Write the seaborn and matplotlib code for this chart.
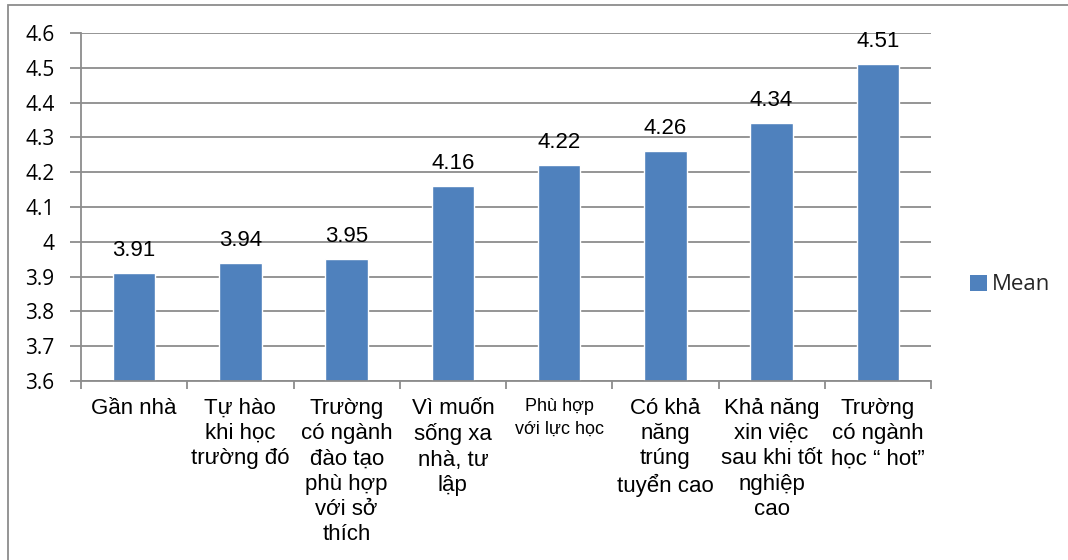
import matplotlib
matplotlib.use("Agg")
import matplotlib.pyplot as plt
from matplotlib.patches import Rectangle
import seaborn as sns
import pandas as pd
import numpy as np

categories = [
    "Gần nhà",
    "Tự hào\nkhi học\ntrường đó",
    "Trường\ncó ngành\nđào tạo\nphù hợp\nvới sở\nthích",
    "Vì muốn\nsống xa\nnhà, tư\nlập",
    "Phù hợp\nvới lực học",
    "Có khả\nnăng\ntrúng\ntuyển cao",
    "Khả năng\nxin việc\nsau khi tốt\nnghiệp\ncao",
    "Trường\ncó ngành\nhọc “ hot”",
]
means = [3.91, 3.94, 3.95, 4.16, 4.22, 4.26, 4.34, 4.51]
y_ticks = [3.6, 3.7, 3.8, 3.9, 4.0, 4.1, 4.2, 4.3, 4.4, 4.5, 4.6]
y_tick_labels = ["3.6", "3.7", "3.8", "3.9", "4", "4.1", "4.2", "4.3", "4.4", "4.5", "4.6"]
series_name = "Mean"

bar_color = "#4F81BD"
grid_color = "#8C8C8C"

sns.set_theme(style="white")
plt.rcParams["font.family"] = ["Liberation Sans", "DejaVu Sans"]

df = pd.DataFrame({"category": categories, "value": means, "series": series_name})

fig = plt.figure(figsize=(10.68, 5.6), dpi=100)
ax = fig.add_axes([81 / 1068, 1 - 381 / 560, (931 - 81) / 1068, (381 - 33) / 560])

sns.barplot(data=df, x="category", y="value", hue="series", palette=[bar_color],
            width=0.4, ax=ax, legend=False, saturation=1)

ax.set_ylim(3.6, 4.6)
ax.set_xlim(-0.5, len(categories) - 0.5)
ax.set_yticks(y_ticks)
ax.set_yticklabels(y_tick_labels, fontfamily="Open Sans", fontsize=15)
ax.yaxis.grid(True, color=grid_color, linewidth=1.3)
ax.set_axisbelow(True)
ax.set_xlabel("")
ax.set_ylabel("")

for s in ["top", "right"]:
    ax.spines[s].set_visible(False)
for s in ["left", "bottom"]:
    ax.spines[s].set_color(grid_color)
    ax.spines[s].set_linewidth(1.3)

ax.tick_params(axis="y", which="major", length=8, width=1.3, color=grid_color,
               direction="out", left=True, pad=11, labelcolor="black")

# category boundaries carry the x tick marks; labels sit at bar centres
ax.set_xticks(np.arange(len(categories)))
ax.set_xticklabels(categories, fontsize=16, linespacing=1.27, va="top", ha="center")
for i, lbl in enumerate(ax.get_xticklabels()):
    if i == 4:
        lbl.set_fontsize(13)
        lbl.set_linespacing(1.5)
ax.tick_params(axis="x", which="major", length=0, pad=12, labelcolor="black")
ax.set_xticks(np.arange(len(categories) + 1) - 0.5, minor=True)
ax.tick_params(axis="x", which="minor", length=6, width=1.3, color=grid_color,
               direction="out", bottom=True)

for i, v in enumerate(means):
    ax.text(i, v + 0.035, f"{v:.2f}", ha="center", va="bottom", fontsize=16,
            color="black")

# legend
handle = Rectangle((0, 0), 1, 1, facecolor=bar_color, edgecolor="none")
fig.legend([handle], [series_name], loc="center left", bbox_to_anchor=(950 / 1068, 1 - 285 / 560),
           frameon=False, handlelength=0.75, handleheight=0.75, handletextpad=0.25,
           prop={"family": "Open Sans", "size": 16})

# outer chart frame
fig.patches.append(Rectangle((8 / 1068, -0.01), 1.0, 1 - 5 / 560 + 0.01, transform=fig.transFigure,
                             fill=False, edgecolor=grid_color, linewidth=1.3))

fig.savefig("out.png", dpi=100, facecolor="white")
